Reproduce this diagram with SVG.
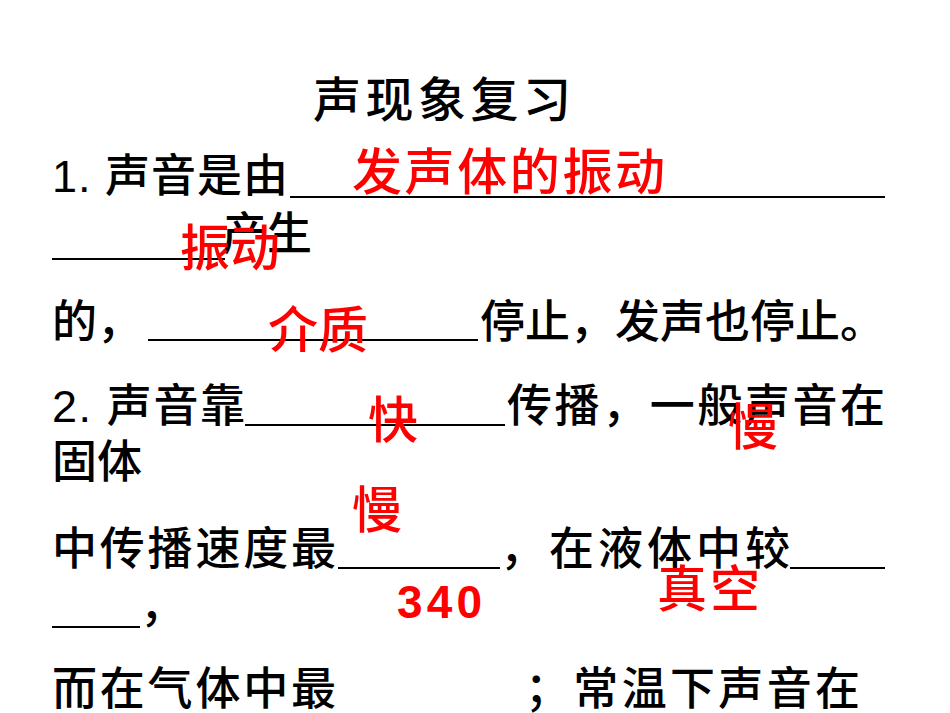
<svg xmlns="http://www.w3.org/2000/svg" width="950" height="713" viewBox="0 0 950 713">
<style>
text{font-family:"Liberation Sans","Noto Sans CJK SC",sans-serif}
.b{font-size:45px;fill:#000;font-weight:500}
.r{font-size:50px;fill:#f00;font-weight:500}
.t{font-size:48px;fill:#000;font-weight:500}
.u{stroke:#000;stroke-width:2}
</style>
<rect width="950" height="713" fill="#fff"/>
<g id="title"><text class="t" x="313" y="117" textLength="258">声现象复习</text></g>
<g id="lines">
<line class="u" x1="290" y1="197" x2="885" y2="197"/>
<line class="u" x1="52" y1="259" x2="225" y2="259"/>
<line class="u" x1="148" y1="340" x2="478" y2="340"/>
<line class="u" x1="245" y1="425" x2="505" y2="425"/>
<line class="u" x1="338" y1="568" x2="500" y2="568"/>
<line class="u" x1="790" y1="568" x2="885" y2="568"/>
<line class="u" x1="52" y1="627" x2="140" y2="627"/>
</g>
<g id="black">
<text class="b" x="52" y="192" textLength="236">1. 声音是由</text>
<text class="b" x="222" y="250">产生</text>
<text class="b" x="52" y="338">的，</text>
<text class="b" x="480" y="338" textLength="405">停止，发声也停止。</text>
<text class="b" x="52" y="422" textLength="193">2. 声音靠</text>
<text class="b" x="507" y="422" textLength="378">传播，一般声音在</text>
<text class="b" x="52" y="478">固体</text>
<text class="b" x="52" y="565" textLength="284">中传播速度最</text>
<text class="b" x="500" y="565" textLength="290">，在液体中较</text>
<text class="b" x="140" y="622">，</text>
<text class="b" x="52" y="705" textLength="284">而在气体中最</text>
<text class="b" x="525" y="705" textLength="335">；常温下声音在</text>
</g>
<g id="red">
<text class="r" x="352" y="190" textLength="313">发声体的振动</text>
<text class="r" x="180" y="266">振动</text>
<text class="r" x="268" y="348">介质</text>
<text class="r" x="368" y="438">快</text>
<text class="r" x="728" y="445">慢</text>
<text class="r" x="352" y="528">慢</text>
<text class="r" x="397" y="618" style="font-weight:bold;font-size:46px" textLength="85">340</text>
<text class="r" x="657" y="607" textLength="103">真空</text>
</g>
</svg>
